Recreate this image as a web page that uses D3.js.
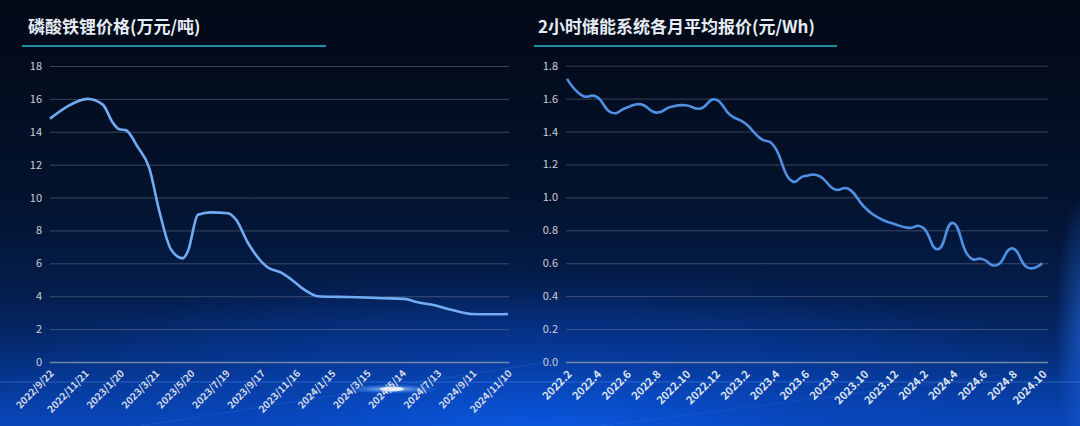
<!DOCTYPE html>
<html><head><meta charset="utf-8">
<script src="https://cdn.jsdelivr.net/npm/d3@7/dist/d3.min.js"></script>
<style>
html,body{margin:0;padding:0;background:#020a1a;}
svg{display:block;}
text{font-family:"Noto Sans CJK SC","Noto Sans",sans-serif;}
</style></head>
<body><svg id="c" width="1080" height="426"></svg>
<script>
// ---------- data ----------
const leftTitle = "磷酸铁锂价格(万元/吨)";
const rightTitle = "2小时储能系统各月平均报价(元/Wh)";

const leftDates = ["2022/9/22","2022/10/22","2022/11/25","2022/12/21","2023/1/7","2023/1/18","2023/1/29","2023/2/18","2023/3/10","2023/3/27","2023/4/16","2023/5/6","2023/5/15","2023/6/1","2023/6/23","2023/7/22","2023/8/5","2023/8/25","2023/9/28","2023/10/20","2023/11/6","2023/11/29","2023/12/22","2024/1/25","2024/2/28","2024/4/8","2024/5/17","2024/6/9","2024/7/8","2024/8/5","2024/9/8","2024/10/6","2024/11/10"];
const leftValues = [14.8,15.55,16.0,15.65,14.55,14.15,14.1,13.1,11.8,9.2,6.85,6.3,6.75,8.95,9.1,9.05,8.65,7.25,5.75,5.45,5.05,4.4,4.0,3.96,3.94,3.88,3.84,3.63,3.45,3.18,2.92,2.9,2.92];
const leftXTicks = ["2022/9/22","2022/11/21","2023/1/20","2023/3/21","2023/5/20","2023/7/19","2023/9/17","2023/11/16","2024/1/15","2024/3/15","2024/5/14","2024/7/13","2024/9/11","2024/11/10"];
const leftYTicks = [0,2,4,6,8,10,12,14,16,18];

const rightMonths = ["2022.2","2022.3","2022.4","2022.5","2022.6","2022.7","2022.8","2022.9","2022.10","2022.11","2022.12","2023.1","2023.2","2023.3","2023.4","2023.5","2023.6","2023.7","2023.8","2023.9","2023.10","2023.11","2023.12","2024.1","2024.2","2024.3","2024.4","2024.5","2024.6","2024.7","2024.8","2024.9","2024.10"];
const rightValues = [1.72,1.62,1.61,1.515,1.545,1.565,1.515,1.55,1.56,1.54,1.595,1.50,1.45,1.36,1.305,1.11,1.13,1.13,1.05,1.05,0.945,0.875,0.84,0.815,0.815,0.685,0.845,0.65,0.625,0.59,0.69,0.575,0.60];
const rightXTicks = ["2022.2","2022.4","2022.6","2022.8","2022.10","2022.12","2023.2","2023.4","2023.6","2023.8","2023.10","2023.12","2024.2","2024.4","2024.6","2024.8","2024.10"];
const rightYTicks = [0,0.2,0.4,0.6,0.8,1.0,1.2,1.4,1.6,1.8];

// ---------- background ----------
const svg = d3.select("#c");
const defs = svg.append("defs");
const lg = defs.append("linearGradient").attr("id","bgLin").attr("x1",0).attr("y1",0).attr("x2",0).attr("y2",1);
[[0,"#020916"],[0.45,"#03122c"],[0.7,"#041e4e"],[0.85,"#05307e"],[1,"#0846b8"]].forEach(s=>lg.append("stop").attr("offset",s[0]).attr("stop-color",s[1]));
const rg = defs.append("radialGradient").attr("id","bgRad");
[[0,"#0b5ff0",0.85],[0.5,"#0848c4",0.45],[1,"#0848c4",0]].forEach(s=>rg.append("stop").attr("offset",s[0]).attr("stop-color",s[1]).attr("stop-opacity",s[2]));
const fl = defs.append("radialGradient").attr("id","flare");
[[0,"#ffffff",0.95],[0.3,"#9fd0ff",0.6],[1,"#2a7bff",0]].forEach(s=>fl.append("stop").attr("offset",s[0]).attr("stop-color",s[1]).attr("stop-opacity",s[2]));
const ed = defs.append("radialGradient").attr("id","edge");
[[0,"#2a74ff",0.55],[1,"#2a74ff",0]].forEach(s=>ed.append("stop").attr("offset",s[0]).attr("stop-color",s[1]).attr("stop-opacity",s[2]));

svg.append("rect").attr("width",1080).attr("height",426).attr("fill","url(#bgLin)");
svg.append("ellipse").attr("cx",540).attr("cy",440).attr("rx",620).attr("ry",170).attr("fill","url(#bgRad)");
svg.append("ellipse").attr("cx",1085).attr("cy",330).attr("rx",30).attr("ry",140).attr("fill","url(#edge)");
// light streaks
svg.append("rect").attr("x",0).attr("y",381).attr("width",1080).attr("height",2).attr("fill","#5aa0ff").attr("opacity",0.2);
svg.append("ellipse").attr("cx",392).attr("cy",389).attr("rx",50).attr("ry",5).attr("fill","url(#flare)");
svg.append("ellipse").attr("cx",392).attr("cy",389).attr("rx",12).attr("ry",2.5).attr("fill","#ffffff").attr("opacity",0.8);
svg.append("line").attr("x1",140).attr("y1",426).attr("x2",560).attr("y2",360).attr("stroke","#6aa8ff").attr("stroke-opacity",0.15).attr("stroke-width",1);
svg.append("line").attr("x1",600).attr("y1",426).attr("x2",1000).attr("y2",375).attr("stroke","#6aa8ff").attr("stroke-opacity",0.12).attr("stroke-width",1);

// ---------- titles ----------
function title(x, y, txt, ux1, ux2){
  svg.append("text").attr("x",x).attr("y",y).attr("fill","#e6ecf4").attr("font-size",17).attr("font-weight","bold").text(txt);
  svg.append("line").attr("x1",ux1).attr("x2",ux2).attr("y1",46).attr("y2",46).attr("stroke","#1f8fa0").attr("stroke-width",2);
}
title(28, 33, leftTitle, 22, 326);
title(538, 33, rightTitle, 534, 837);

// ---------- chart builder ----------
function yAxis(g, y, ticks, x0, w, fmt){
  const ax = g.append("g").attr("transform",`translate(${x0},0)`)
    .call(d3.axisLeft(y).tickValues(ticks).tickSize(-w).tickPadding(8).tickFormat(fmt));
  ax.select(".domain").remove();
  ax.selectAll(".tick line").attr("stroke","#8a96a8").attr("stroke-opacity",d=>d===0?0.85:0.4).attr("stroke-width",d=>d===0?1.6:1);
  ax.selectAll(".tick text").attr("fill","#c9d0da").attr("font-size",11).attr("font-family","'Noto Sans',sans-serif");
}

// Left chart
const parse = d3.timeParse("%Y/%-m/%-d");
const gL = svg.append("g");
const xL = d3.scaleTime().domain([parse(leftDates[0]), parse(leftDates[leftDates.length-1])]).range([50,508]);
const yL = d3.scaleLinear().domain([0,18]).range([362,66]);
yAxis(gL, yL, leftYTicks, 50, 459, d3.format("d"));
const axL = gL.append("g").attr("transform","translate(0,362)")
  .call(d3.axisBottom(xL).tickValues(leftXTicks.map(parse)).tickSize(0).tickFormat((d,i)=>leftXTicks[i]));
axL.select(".domain").remove();
axL.selectAll(".tick text").attr("fill","#d4dbe6").attr("font-size",10).attr("font-weight","bold")
  .attr("font-family","'Noto Sans',sans-serif")
  .attr("text-anchor","end").attr("dy",0).attr("y",0)
  .attr("transform","translate(4,12) rotate(-46)");
gL.append("path").datum(leftDates.map((d,i)=>[parse(d),leftValues[i]]))
  .attr("fill","none").attr("stroke","#72acf4").attr("stroke-width",2.6).attr("stroke-linejoin","round")
  .attr("d",d3.line().x(d=>xL(d[0])).y(d=>yL(d[1])).curve(d3.curveMonotoneX));

// Right chart
const gR = svg.append("g");
const xR = d3.scalePoint().domain(rightMonths).range([567,1042]);
const yR = d3.scaleLinear().domain([0,1.8]).range([362,65.7]);
yAxis(gR, yR, rightYTicks, 566, 482, d3.format(".1f"));
const axR = gR.append("g").attr("transform","translate(0,362)")
  .call(d3.axisBottom(xR).tickValues(rightXTicks).tickSize(0));
axR.select(".domain").remove();
axR.selectAll(".tick text").attr("fill","#dfe5ee").attr("font-size",11).attr("font-weight","bold")
  .attr("font-family","'Noto Sans',sans-serif")
  .attr("text-anchor","end").attr("dy",0).attr("y",0)
  .attr("transform","translate(5,13) rotate(-45)");
gR.append("path").datum(rightMonths.map((m,i)=>[m,rightValues[i]]))
  .attr("fill","none").attr("stroke","#4f90e2").attr("stroke-width",2.6).attr("stroke-linejoin","round")
  .attr("d",d3.line().x(d=>xR(d[0])).y(d=>yR(d[1])).curve(d3.curveCardinal.tension(-0.5)));
</script></body></html>
